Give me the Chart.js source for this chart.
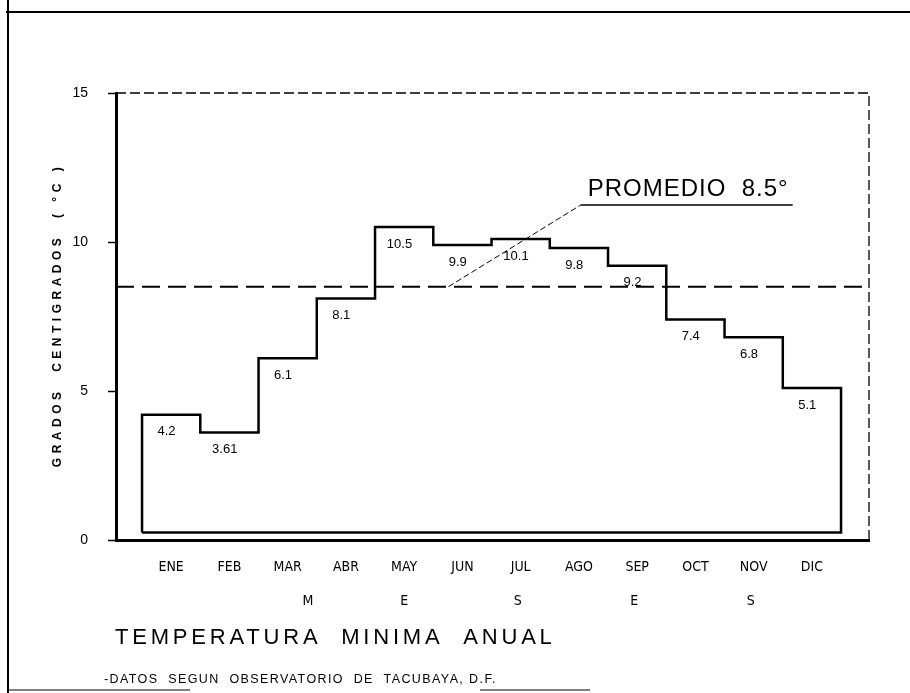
<!DOCTYPE html>
<html>
<head>
<meta charset="utf-8">
<script src="https://cdn.jsdelivr.net/npm/chart.js@4.4.1/dist/chart.umd.min.js"></script>
<style>
  html, body { margin: 0; padding: 0; background: #fff; }
  #wrap { width: 910px; height: 693px; }
</style>
</head>
<body>
<div id="wrap"><canvas id="Chart"></canvas></div>
<script>
// monthly minimum temperatures (Tacubaya)
const months = ['ENE', 'FEB', 'MAR', 'ABR', 'MAY', 'JUN', 'JUL', 'AGO', 'SEP', 'OCT', 'NOV', 'DIC'];
const minTemps = [4.2, 3.61, 6.1, 8.1, 10.5, 9.9, 10.1, 9.8, 9.2, 7.4, 6.8, 5.1];
const tempLabels = ['4.2', '3.61', '6.1', '8.1', '10.5', '9.9', '10.1', '9.8', '9.2', '7.4', '6.8', '5.1'];
const average = 8.5;
const yTicks = [0, 5, 10, 15];
const mesesLetters = ['M', 'E', 'S', 'E', 'S'];

const narrow = "'Liberation Sans Narrow', 'DejaVu Sans Condensed', 'Liberation Sans', sans-serif";
const sans = "'Liberation Sans', Arial, sans-serif";

const xMin = -0.447, xMax = 12.48;
const base = 0.25;

// stepped outline built from the values
let outline = [{x: 0, y: base}];
minTemps.forEach(function (t, i) {
    outline.push({x: i, y: t});
});
outline.push({x: 12, y: minTemps[minTemps.length - 1]});
outline.push({x: 12, y: base});
outline.push({x: 0, y: base});

const extras = {
    id: 'extras',
    afterDraw: function (chart) {
        const ctx = chart.ctx;
        const xs = chart.scales.x, ys = chart.scales.y;
        const area = chart.chartArea;
        ctx.save();
        ctx.strokeStyle = '#000';
        ctx.fillStyle = '#000';

        // page frame
        ctx.lineWidth = 2;
        ctx.beginPath();
        ctx.moveTo(8, 0); ctx.lineTo(8, 693);
        ctx.moveTo(6, 12); ctx.lineTo(910, 12);
        ctx.stroke();
        ctx.lineWidth = 1;
        ctx.beginPath();
        ctx.moveTo(8, 690); ctx.lineTo(190, 690);
        ctx.moveTo(480, 690); ctx.lineTo(590, 690);
        ctx.stroke();

        // dashed top and right borders
        ctx.lineWidth = 1.3;
        ctx.setLineDash([10, 4]);
        ctx.beginPath();
        ctx.moveTo(area.left, area.top); ctx.lineTo(area.right, area.top);
        ctx.lineTo(area.right, area.bottom);
        ctx.stroke();
        ctx.setLineDash([]);

        // y axis title, letter spaced
        ctx.save();
        ctx.translate(58, 315);
        ctx.rotate(-Math.PI / 2);
        ctx.font = 'bold 12px ' + sans;
        ctx.letterSpacing = '4.5px';
        ctx.textAlign = 'center';
        ctx.textBaseline = 'middle';
        ctx.fillText('GRADOS  CENTIGRADOS  ( °C )', 0, 0);
        ctx.restore();

        // value labels under each step
        ctx.font = '13px ' + sans;
        ctx.textAlign = 'center';
        ctx.textBaseline = 'middle';
        minTemps.forEach(function (t, i) {
            ctx.fillText(tempLabels[i], xs.getPixelForValue(i + 0.42), ys.getPixelForValue(t) + 17);
        });

        // PROMEDIO label with leader line
        const ux = xs.getPixelForValue(7.53), uy = ys.getPixelForValue(11.24);
        ctx.lineWidth = 1;
        ctx.setLineDash([6, 3]);
        ctx.beginPath();
        ctx.moveTo(xs.getPixelForValue(5.26), ys.getPixelForValue(average));
        ctx.lineTo(ux, uy);
        ctx.stroke();
        ctx.setLineDash([]);
        ctx.lineWidth = 1.5;
        ctx.beginPath();
        ctx.moveTo(ux, uy);
        ctx.lineTo(xs.getPixelForValue(11.17), uy);
        ctx.stroke();
        ctx.font = '24px ' + sans;
        ctx.letterSpacing = '1px';
        ctx.textAlign = 'left';
        ctx.textBaseline = 'alphabetic';
        ctx.fillText('PROMEDIO  ' + average + '°', ux + 7, uy - 9);
        ctx.letterSpacing = '0px';

        // M E S E S
        const mesesAt = [2.85, 4.5, 6.45, 8.45, 10.45];
        ctx.font = '14px ' + narrow;
        ctx.textAlign = 'center';
        ctx.textBaseline = 'middle';
        mesesLetters.forEach(function (l, i) {
            ctx.fillText(l, xs.getPixelForValue(mesesAt[i]), 601);
        });

        // title and source note
        ctx.textAlign = 'left';
        ctx.textBaseline = 'alphabetic';
        ctx.font = '22px ' + sans;
        ctx.letterSpacing = '3.8px';
        ctx.fillText('TEMPERATURA  MINIMA  ANUAL', 115, 644);
        ctx.font = '12.5px ' + sans;
        ctx.letterSpacing = '1.4px';
        ctx.fillText('-DATOS  SEGUN  OBSERVATORIO  DE  TACUBAYA, D.F.', 104, 683);
        ctx.letterSpacing = '0px';
        ctx.restore();
    }
};

let chart = new Chart(document.getElementById('Chart'), {
    type: 'line',
    data: {
        datasets: [{
            label: 'Temperatura minima',
            data: outline,
            stepped: true,
            borderColor: '#000',
            borderWidth: 2.5,
            pointRadius: 0,
            fill: false
        }, {
            label: 'Promedio',
            data: [{x: xMin, y: average}, {x: xMax, y: average}],
            borderColor: '#000',
            borderWidth: 2,
            borderDash: [18, 8],
            pointRadius: 0,
            fill: false
        }]
    },
    options: {
        responsive: true,
        maintainAspectRatio: false,
        animation: false,
        layout: {padding: {top: 93, right: 41, bottom: 0, left: 0}},
        plugins: {
            legend: {display: false},
            tooltip: {enabled: false}
        },
        scales: {
            x: {
                type: 'linear',
                min: xMin,
                max: xMax,
                afterFit: function (scale) { scale.height = 153; },
                afterBuildTicks: function (scale) {
                    scale.ticks = months.map(function (m, i) { return {value: i + 0.5}; });
                },
                grid: {display: false, drawTicks: false},
                border: {display: true, color: '#000', width: 3},
                ticks: {
                    color: '#000',
                    padding: 19,
                    maxRotation: 0,
                    autoSkip: false,
                    font: {family: narrow, size: 14},
                    callback: function (value) { return months[Math.floor(value)]; }
                }
            },
            y: {
                min: 0,
                max: 15,
                afterFit: function (scale) { scale.width = 116; },
                afterBuildTicks: function (scale) {
                    scale.ticks = yTicks.map(function (v) { return {value: v}; });
                },
                grid: {drawOnChartArea: false, drawTicks: true, tickLength: 8, tickWidth: 1.5, color: '#000'},
                border: {display: true, color: '#000', width: 3},
                ticks: {
                    color: '#000',
                    padding: 20,
                    font: {family: sans, size: 14}
                }
            }
        }
    },
    plugins: [extras]
});
</script>
</body>
</html>
